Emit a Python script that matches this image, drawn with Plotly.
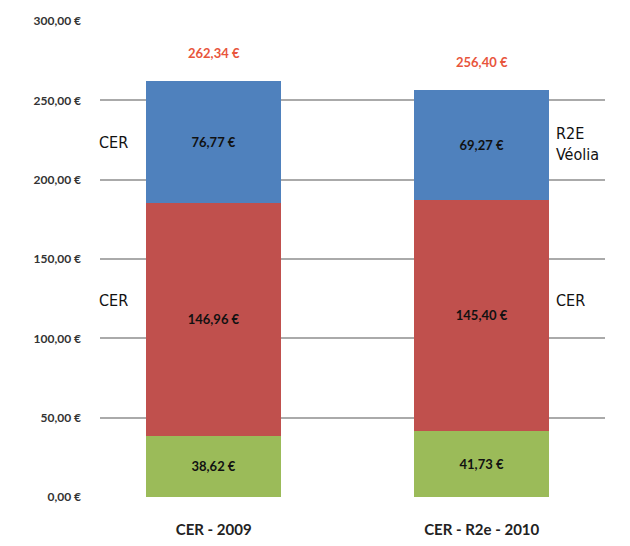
import plotly.graph_objects as go

categories = ["CER - 2009", "CER - R2e - 2010"]
green_vals = [38.62, 41.73]
red_vals = [146.96, 145.40]
blue_vals = [76.77, 69.27]
totals = [262.34, 256.40]
tick_vals = [0, 50, 100, 150, 200, 250, 300]
tick_text = ["0,00 €", "50,00 €", "100,00 €", "150,00 €", "200,00 €", "250,00 €", "300,00 €"]

GREEN = "#9BBB59"
RED = "#C0504D"
BLUE = "#4F81BD"

fig = go.Figure()
for vals, col in [(green_vals, GREEN), (red_vals, RED), (blue_vals, BLUE)]:
    fig.add_trace(go.Bar(
        x=categories, y=vals, marker=dict(color=col, line=dict(width=0)),
        width=0.504, texttemplate="%{y:.2f} €", textposition="inside",
        insidetextanchor="middle",
        textfont=dict(family="Lato, Open Sans, sans-serif", size=13, color="#111111", weight="bold"),
        hoverinfo="skip", showlegend=False,
    ))

for c, t in zip(categories, totals):
    fig.add_annotation(x=c, y=t, text=f"{t:.2f} €".replace(".", ","), showarrow=False,
                       yanchor="bottom", yshift=18,
                       font=dict(family="Lato, Open Sans, sans-serif", size=13, color="#E8553C", weight="bold"))

side_font = dict(family="DejaVu Sans Condensed, Liberation Sans Narrow, sans-serif", size=16, color="#111111")
fig.add_annotation(xref="paper", yref="paper", x=-0.005, y=(497 - 142) / 476, text="CER",
                   showarrow=False, xanchor="left", yanchor="middle", font=side_font)
fig.add_annotation(xref="paper", yref="paper", x=-0.005, y=(497 - 300) / 476, text="CER",
                   showarrow=False, xanchor="left", yanchor="middle", font=side_font)
fig.add_annotation(xref="paper", yref="paper", x=(554 - 100) / 505, y=(497 - 144) / 476,
                   text="R2E<br>Véolia", align="left",
                   showarrow=False, xanchor="left", yanchor="middle", font=side_font)
fig.add_annotation(xref="paper", yref="paper", x=(554 - 100) / 505, y=(497 - 300) / 476, text="CER",
                   showarrow=False, xanchor="left", yanchor="middle", font=side_font)

fig.update_layout(
    barmode="stack",
    width=630, height=546,
    margin=dict(l=92, r=33, t=13, b=57, autoexpand=False),
    paper_bgcolor="white", plot_bgcolor="white",
    separators=", ",
    xaxis=dict(range=[-0.424, 1.46], showgrid=False, showline=False, ticks="", automargin=False,
               ticklabelstandoff=22,
               tickfont=dict(family="Lato, Open Sans, sans-serif", size=15, color="#222222", weight="bold")),
    yaxis=dict(range=[0, 300], tickvals=tick_vals, ticktext=tick_text, automargin=False,
               showgrid=True, gridcolor="#AAAAAA", gridwidth=1.5, zeroline=False, showline=False,
               ticks="", ticklabelstandoff=18,
               tickfont=dict(family="Lato, Open Sans, sans-serif", size=12, color="#333333", weight="bold")),
)

fig.write_html("out.html")
